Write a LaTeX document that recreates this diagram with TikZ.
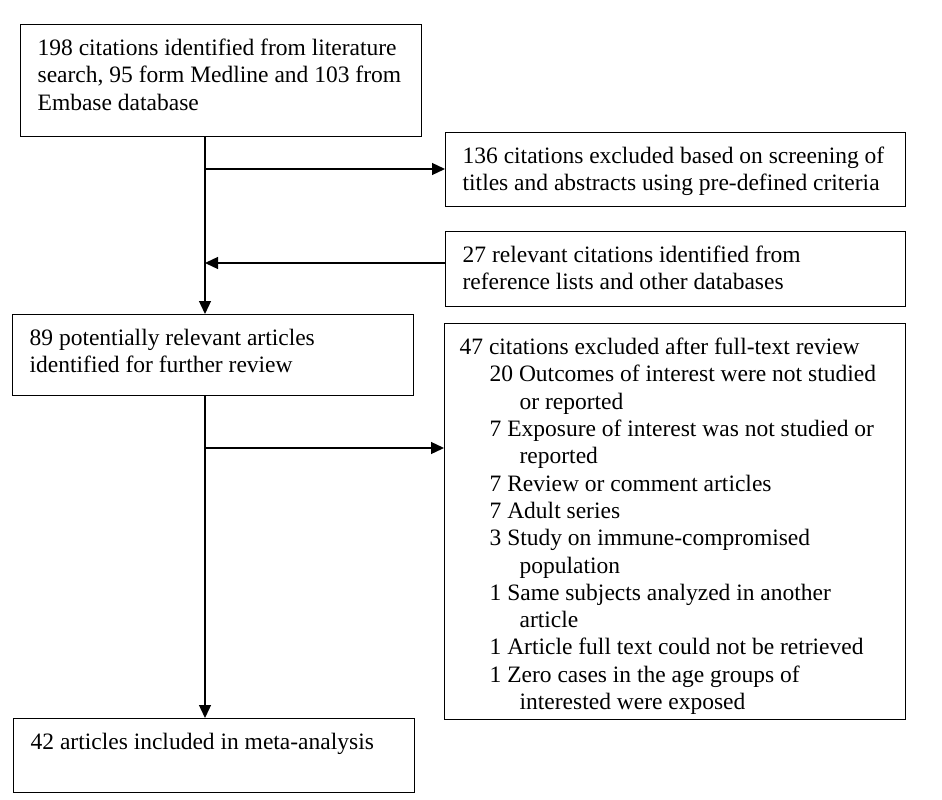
\documentclass[tikz,border=0pt]{standalone}
\usepackage{fontspec}
\setmainfont{Liberation Serif}
\usetikzlibrary{arrows.meta}
\newcommand{\bxt}[3]{\parbox[t][#2][t]{#1}{\raggedright\rule{0pt}{31pt}#3}}
\newcommand{\ind}[1]{\hspace*{#1pt}}
\begin{document}
\begin{tikzpicture}[x=1pt,y=-1pt,
  fbox/.style={draw=black, line width=1.3pt, anchor=north west, inner sep=0pt,
    font=\fontsize{23.5}{27.3}\selectfont},
  conn/.style={line width=1.3pt, draw=black},
  arr/.style={conn, -{Triangle[length=13pt,width=12pt]}}]
\useasboundingbox (0,0) rectangle (942,800);
\node[fbox] (b1) at (20,24) {\bxt{401pt}{112pt}{\ind{17}198 citations identified from literature\\
\ind{17}search, 95 form Medline and 103 from\\
\ind{17}Embase database}};
\node[fbox] (b2) at (445,132) {\bxt{460pt}{74pt}{\ind{17}136 citations excluded based on screening of\\
\ind{17}titles and abstracts using pre-defined criteria}};
\node[fbox] (b3) at (445,231) {\bxt{460pt}{75pt}{\ind{17}27 relevant citations identified from\\
\ind{17}reference lists and other databases}};
\node[fbox] (b89) at (12,314) {\bxt{401pt}{81pt}{\ind{17}89 potentially relevant articles\\
\ind{17}identified for further review}};
\node[fbox] (b4) at (444,323) {\bxt{461pt}{396pt}{\ind{15}47 citations excluded after full-text review\\
\ind{45}20 Outcomes of interest were not studied\\
\ind{75}or reported\\
\ind{45}7 Exposure of interest was not studied or\\
\ind{75}reported\\
\ind{45}7 Review or comment articles\\
\ind{45}7 Adult series\\
\ind{45}3 Study on immune-compromised\\
\ind{75}population\\
\ind{45}1 Same subjects analyzed in another\\
\ind{75}article\\
\ind{45}1 Article full text could not be retrieved\\
\ind{45}1 Zero cases in the age groups of\\
\ind{75}interested were exposed}};
\node[fbox] (b42) at (13,718) {\bxt{401pt}{74pt}{\ind{17}42 articles included in meta-analysis}};
\coordinate (mx) at (205,0);
\coordinate (j1) at (205,169);
\coordinate (j2) at (205,263);
\coordinate (j3) at (205,448);
\draw[arr] (b1.south -| mx) -- (b89.north -| mx);
\draw[arr] (b89.south -| mx) -- (b42.north -| mx);
\draw[arr] (j1) -- (j1 -| b2.west);
\draw[arr] (j2 -| b3.west) -- (j2);
\draw[arr] (j3) -- (j3 -| b4.west);
\end{tikzpicture}
\end{document}
